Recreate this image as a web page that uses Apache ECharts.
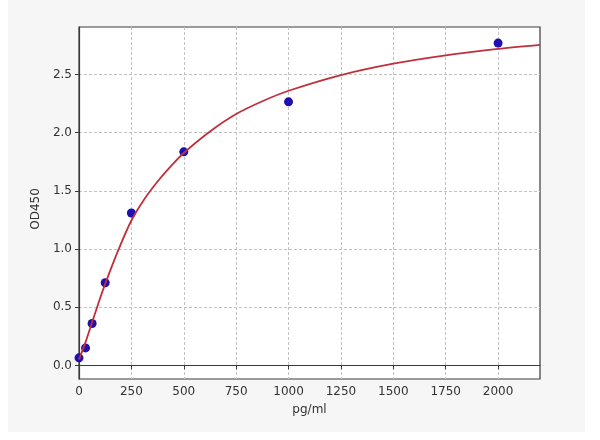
<!DOCTYPE html>
<html>
<head>
<meta charset="utf-8">
<script src="https://cdn.jsdelivr.net/npm/echarts@6/dist/echarts.min.js"></script>
<style>
html,body{margin:0;padding:0;background:#ffffff;}
#chart{width:600px;height:440px;}
</style>
</head>
<body>
<div id="chart"></div>
<script>
// Standard points
var stdConc = [0, 31.25, 62.5, 125, 250, 500, 1000, 2000];
var stdOD   = [0.065, 0.15, 0.36, 0.71, 1.31, 1.835, 2.265, 2.77];
// Fitted curve
var curveConc = [0, 31.25, 62.5, 93.75, 125, 187.5, 250, 312.5, 375, 437.5, 500, 625, 750, 875, 1000, 1250, 1500, 1750, 2000, 2200];
var curveOD   = [0.05, 0.20, 0.37, 0.54, 0.70, 0.99, 1.245, 1.43, 1.58, 1.71, 1.825, 2.01, 2.16, 2.27, 2.36, 2.495, 2.593, 2.665, 2.72, 2.755];
// Tick labels
var xTicks = [0, 250, 500, 750, 1000, 1250, 1500, 1750, 2000];
var yTicks = [0.0, 0.5, 1.0, 1.5, 2.0, 2.5];

function pairs(xs, ys){ var out=[]; for (var i=0;i<xs.length;i++) out.push([xs[i], ys[i]]); return out; }

var chart = echarts.init(document.getElementById('chart'), null, {renderer:'canvas'});
var font = 'DejaVu Sans';
chart.setOption({
  animation:false,
  backgroundColor:'#ffffff',
  graphic:[{type:'rect', z:-10, shape:{x:8,y:0,width:577,height:432}, style:{fill:'#f6f6f6'}}],
  grid:{left:79, right:60, top:27, bottom:61, show:true, backgroundColor:'#ffffff', borderColor:'#3a3a3a', borderWidth:1.2},
  xAxis:{
    type:'value', min:0, max:2200,
    name:'pg/ml', nameLocation:'middle', nameGap:25,
    nameTextStyle:{fontFamily:font, fontSize:12, color:'#333'},
    axisLine:{show:true, lineStyle:{color:'#3a3a3a', width:1.2}},
    axisTick:{show:true, inside:false, length:4, lineStyle:{color:'#3a3a3a'}, customValues:xTicks},
    axisLabel:{fontFamily:font, fontSize:12, color:'#333', margin:7, customValues:xTicks, formatter:function(v){return String(v);}},
    splitLine:{show:true, lineStyle:{color:'#c2c2c2', type:[3,2], width:1}}
  },
  yAxis:{
    type:'value', min:-0.117, max:2.908,
    name:'OD450', nameLocation:'middle', nameGap:35, nameRotate:90,
    nameTextStyle:{fontFamily:font, fontSize:12, color:'#333', padding:[0,12,0,0]},
    axisLine:{show:true, lineStyle:{color:'#3a3a3a', width:1.2}},
    axisTick:{show:true, inside:false, length:4, lineStyle:{color:'#3a3a3a'}, customValues:yTicks},
    axisLabel:{fontFamily:font, fontSize:12, color:'#333', margin:7, customValues:yTicks, formatter:function(v){return v.toFixed(1);}},
    splitLine:{show:true, lineStyle:{color:'#c2c2c2', type:[3,2], width:1}}
  },
  series:[
    {type:'scatter', data:pairs(stdConc, stdOD), symbolSize:9, itemStyle:{color:'#1f0fae', opacity:1}, z:2},
    {type:'line', data:pairs(curveConc, curveOD), smooth:0.3, showSymbol:false, symbol:'none',
     lineStyle:{color:'#c0303a', width:1.8}, z:3}
  ]
});
</script>
</body>
</html>
